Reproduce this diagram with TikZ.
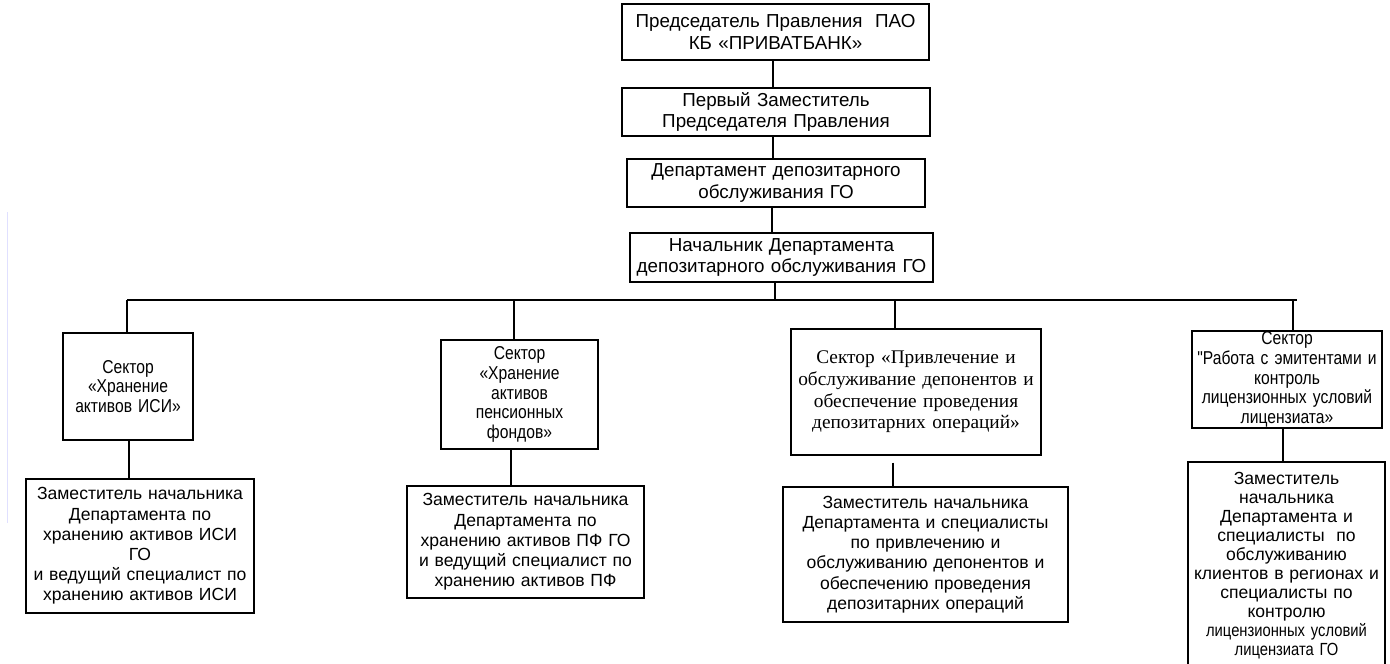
\documentclass[tikz,border=0pt]{standalone}
\usepackage{fontspec}
\setmainfont{Liberation Sans}
\newfontfamily\timesfont{Liberation Serif}
\newfontfamily\narrowfont[FakeStretch=0.84]{Liberation Sans}
\usepackage{tikz}

\begin{document}
\begin{tikzpicture}[x=0.02cm, y=-0.02cm,
  box/.style={draw, line width=0.7pt, align=center, inner sep=0pt, font=\fontsize{10.7}{12.3}\selectfont},
  sector/.style={box, font=\narrowfont\fontsize{10.6}{11.2}\selectfont},
  deputyof/.style={box, font=\fontsize{10}{11.5}\selectfont},
  link/.style={line width=0.6pt}]
\useasboundingbox (0,0) rectangle (1390,663);
\draw[line width=0.5pt, blue!12] (7,212) -- (7,523);
\node[box, minimum width=6.14cm, minimum height=1.12cm, text width=6cm] (chair) at (775.5,32) {Председатель Правления \ ПАО\\КБ «ПРИВАТБАНК»};
\node[box, minimum width=6.16cm, minimum height=0.96cm, text width=6cm] (firstdep) at (776,112) {Первый Заместитель\\Председателя Правления};
\node[box, minimum width=5.96cm, minimum height=0.96cm, text width=5.8cm] (dept) at (776,183) {Департамент депозитарного\\обслуживания ГО};
\node[box, minimum width=6.06cm, minimum height=0.98cm, text width=5.9cm] (head) at (781.5,257.5) {Начальник Департамента\\депозитарного обслуживания ГО};
\draw[link] ([xshift=-0.05cm]chair.south) -- ([xshift=-0.05cm]chair.south |- firstdep.north);
\draw[link] ([xshift=-0.06cm]firstdep.south) -- ([xshift=-0.06cm]firstdep.south |- dept.north);
\draw[link] ([xshift=-0.08cm]dept.south) -- ([xshift=-0.08cm]dept.south |- head.north);
\coordinate (busL) at (127,300);
\coordinate (busR) at (1297,300);
\draw[link] (busL) -- (busR);
\draw[link] ([xshift=-0.13cm]head.south) -- ([xshift=-0.13cm]head.south |- busL);
\node[sector, minimum width=2.6cm, minimum height=2.14cm, text width=2.5cm] (secisi) at (128,386.5) {Сектор\\«Хранение\\активов ИСИ»\\[8pt]};
\node[sector, minimum width=3.14cm, minimum height=2.18cm, text width=3cm] (secpf) at (519.5,394.5) {Сектор\\«Хранение\\активов\\пенсионных\\фондов»};
\node[box, minimum width=5cm, minimum height=2.52cm, text width=4.98cm, font=\timesfont\fontsize{11}{12.3}\selectfont] (secdep) at (916,392) {Сектор «Привлечение и\\обслуживание депонентов и\\обеспечение проведения\\депозитарних операций»\\[18pt]};
\node[sector, minimum width=3.8cm, minimum height=1.94cm, text width=3.7cm] (secem) at (1287,379.5) {Сектор\\"Работа с эмитентами и\\контроль\\лицензионных условий\\лицензиата»};
\draw[link] (busL) -- (busL |- secisi.north);
\draw[link] ([xshift=-0.11cm]secpf.north |- busL) -- ([xshift=-0.11cm]secpf.north);
\draw[link] ([xshift=-0.42cm]secdep.north |- busL) -- ([xshift=-0.42cm]secdep.north);
\draw[link] ([xshift=0.12cm]secem.north |- busL) -- ([xshift=0.12cm]secem.north);
\node[deputyof, minimum width=4.56cm, minimum height=2.68cm, text width=4.5cm] (depisi) at (140,546) {Заместитель начальника\\Департамента по\\хранению активов ИСИ\\ГО\\и ведущий специалист по\\хранению активов ИСИ};
\node[deputyof, minimum width=4.74cm, minimum height=2.24cm, text width=4.6cm] (deppf) at (525.5,542) {Заместитель начальника\\Департамента по\\хранению активов ПФ ГО\\и ведущий специалист по\\хранению активов ПФ};
\node[deputyof, minimum width=5.7cm, minimum height=2.7cm, text width=5.6cm] (depdep) at (925.5,554.5) {Заместитель начальника\\Департамента и специалисты\\по привлечению и\\обслуживанию депонентов и\\обеспечению проведения\\депозитарних операций};
\node[deputyof, minimum width=3.94cm, minimum height=4.16cm, text width=3.9cm, font=\fontsize{10}{10.8}\selectfont] (depem) at (1286.5,566) {Заместитель\\начальника\\Департамента и\\специалисты \ по\\обслуживанию\\клиентов в регионах и\\специалисты по\\контролю\\{\narrowfont лицензионных условий}\\{\narrowfont лицензиата ГО}};
\draw[link] ([xshift=0.02cm]secisi.south) -- ([xshift=0.02cm]secisi.south |- depisi.north);
\draw[link] ([xshift=-0.17cm]secpf.south) -- ([xshift=-0.17cm]secpf.south |- deppf.north);
\draw[link, shorten <=0.14cm] ([xshift=-0.46cm]secdep.south) -- ([xshift=-0.46cm]secdep.south |- depdep.north);
\draw[link] ([xshift=-0.08cm]secem.south) -- ([xshift=-0.08cm]secem.south |- depem.north);
\end{tikzpicture}
\end{document}
